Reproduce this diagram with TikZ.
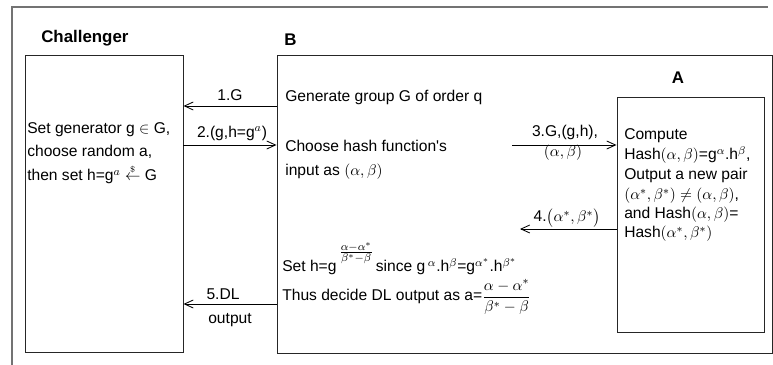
\documentclass[tikz,border=0pt]{standalone}
\usepackage{amsmath}
\usepackage{fontspec}
\setmainfont{Liberation Sans}
\usetikzlibrary{arrows.meta,fit}

\begin{document}
\begin{tikzpicture}[x=0.025cm,y=-0.025cm,font=\fontsize{11.1}{13}\selectfont,
  txt/.style={anchor=base west,inner sep=0pt},
  lbl/.style={anchor=base,inner sep=0pt},
  head/.style={anchor=base west,inner sep=0pt,font=\fontsize{12}{14}\selectfont\bfseries},
  box/.style={draw=black!85,line width=.7pt,inner sep=0pt},
  msg/.style={line width=.6pt,-{Straight Barb[length=2.2mm,width=2mm]}}]
\useasboundingbox (0,0) rectangle (773,365);
\draw[black!55,line width=1pt] (12,365) -- (12,7) -- (768,7);
% the three parties
\node[box,fit={(25,55) (183,352)}] (chal) {};
\node[box,fit={(277,55) (772,353)}] (bbox) {};
\node[box,fit={(617,97) (764,332)}] (abox) {};
\node[head] (chalname) at (41,43) {Challenger};
\node[head] (bname) at (284,46) {B};
\node[head,anchor=base] (aname) at (678,84) {A};
% messages
\coordinate (m1) at (0,106);
\coordinate (m2) at (0,145);
\coordinate (m3) at (512,145);
\coordinate (m4) at (520,229);
\coordinate (m5) at (0,304);
\draw[msg] (bbox.west |- m1) -- (chal.east |- m1);
\draw[msg] (chal.east |- m2) -- (bbox.west |- m2);
\draw[msg] (m3) -- (abox.west |- m3);
\draw[msg] (abox.west |- m4) -- (m4);
\draw[msg] (bbox.west |- m5) -- (chal.east |- m5);
\node[lbl] (l1) at (230,100.5) {1.G};
\node[lbl] (l2) at (232,137.5) {2.(g,h=g$^a$)};
\node[lbl] (l3a) at (565,137) {3.G,(g,h),};
\node[lbl] (l3b) at (563,157) {$(\alpha,\beta)$};
\node[lbl] (l4) at (567,222) {4.$\bigl(\alpha^*,\beta^*\bigr)$};
\node[lbl] (l5a) at (223,300) {5.DL};
\node[lbl] (l5b) at (230,323) {output};
% Challenger
\node[txt] (c1) at (27,134) {Set generator g $\in$ G,};
\node[txt] (c2) at (27,157) {choose random a,};
\node[txt] (c3) at (27,181) {then set h=g$^a$ $\overset{\scriptscriptstyle\$}{\leftarrow}$ G};
% B
\node[txt] (b1) at (285,102) {Generate group G of order q};
\node[txt] (b2) at (285,152) {Choose hash function\textquotesingle s};
\node[txt] (b3) at (285,176) {input as $(\alpha,\beta)$};
\node[txt] (b4) at (282,272) {Set h=g\,\raisebox{11pt}{$\genfrac{}{}{}{1}{\alpha-\alpha^*}{\beta^*-\beta}$}\,since g\,$^{\alpha}$.h$^{\beta}$=g$^{\alpha^*}$.h$^{\beta^*}$};
\node[txt] (b5) at (282,301) {Thus decide DL output as a=$\dfrac{\alpha-\alpha^*}{\beta^*-\beta}$};
% A
\node[txt] (a1) at (624,140) {Compute};
\node[txt] (a2) at (624,160) {Hash$(\alpha,\beta)$=g$^{\alpha}$.h$^{\beta}$,};
\node[txt] (a3) at (624,180) {Output a new pair};
\node[txt] (a4) at (624,200) {$(\alpha^*,\beta^*)\neq(\alpha,\beta)$,};
\node[txt] (a5) at (624,219) {and Hash$(\alpha,\beta)$=};
\node[txt] (a6) at (624,238) {Hash$(\alpha^*,\beta^*)$};
\end{tikzpicture}
\end{document}
